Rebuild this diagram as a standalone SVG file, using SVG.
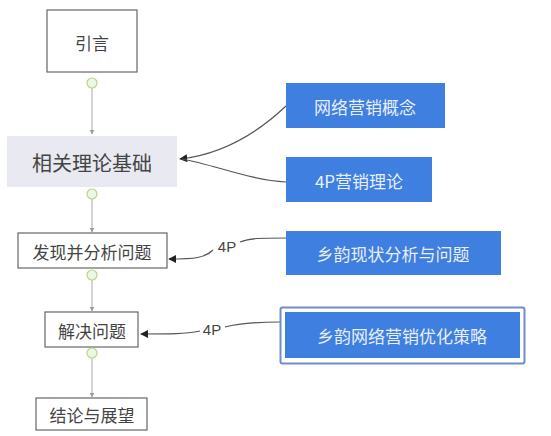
<svg xmlns="http://www.w3.org/2000/svg" width="551" height="436" viewBox="0 0 551 436">
<defs>
<style>
.box{fill:#fff;stroke:#666;stroke-width:1.2}
.t{font-family:"Noto Sans CJK SC",sans-serif;fill:#444;text-anchor:middle;dominant-baseline:central;font-size:17px}
.big{font-size:20px}
.bt{font-family:"Noto Sans CJK SC",sans-serif;fill:#e8eefa;text-anchor:middle;dominant-baseline:central;font-size:17px}
.blue{fill:#3f7fe0}
.ln{fill:none;stroke:#aaa;stroke-width:1}
.cn{fill:none;stroke:#555;stroke-width:1.2}
.gc{fill:#eef6e4;stroke:#b5d68e;stroke-width:1.2}
.lbl{font-family:"Liberation Sans",sans-serif;font-size:15px;fill:#444;text-anchor:middle;dominant-baseline:central}
</style>
<marker id="ah" viewBox="0 0 10 10" refX="9" refY="5" markerWidth="8" markerHeight="8" orient="auto-start-reverse" markerUnits="userSpaceOnUse">
<path d="M0,0 L10,5 L0,10 z" fill="#222"/>
</marker>
<marker id="sa" viewBox="0 0 10 10" refX="9" refY="5" markerWidth="5" markerHeight="5" orient="auto" markerUnits="userSpaceOnUse">
<path d="M0,0 L10,5 L0,10 z" fill="#999"/>
</marker>
</defs>
<rect width="551" height="436" fill="#fff"/>
<g id="connectors">
<line class="ln" x1="92" y1="88" x2="92" y2="134" marker-end="url(#sa)"/>
<line class="ln" x1="92" y1="199" x2="92" y2="232" marker-end="url(#sa)"/>
<line class="ln" x1="92" y1="280" x2="92" y2="311" marker-end="url(#sa)"/>
<line class="ln" x1="92" y1="358" x2="92" y2="397" marker-end="url(#sa)"/>
<path class="cn" d="M286,106 C250,140 215,155 180,159" marker-end="url(#ah)"/>
<path class="cn" d="M286,182 C250,180 215,165 182,159"/>
<path class="cn" d="M286,238 C260,238 250,238 240,242 M213,250 C205,258 195,259 169,259" marker-end="url(#ah)"/>
<text class="lbl" x="227" y="246">4P</text>
<path class="cn" d="M280,322 C255,322 240,323 225,327 M200,331 C185,334 170,334 141,334" marker-end="url(#ah)"/>
<text class="lbl" x="212" y="329">4P</text>
</g>
<g id="n1">
<rect class="box" x="47" y="10" width="90" height="62"/>
<text class="t" x="92" y="42">引言</text>
<circle class="gc" cx="92" cy="83" r="5"/>
</g>
<g id="n2">
<rect x="7" y="136" width="170" height="51" fill="#e9e9f1"/>
<text class="t big" x="92" y="162">相关理论基础</text>
<circle class="gc" cx="92" cy="194" r="5"/>
</g>
<g id="n3">
<rect class="box" x="18" y="233" width="149" height="35"/>
<text class="t" x="92" y="251">发现并分析问题</text>
<circle class="gc" cx="92" cy="275" r="5"/>
</g>
<g id="n4">
<rect class="box" x="45" y="312" width="93" height="35"/>
<text class="t" x="92" y="330">解决问题</text>
<circle class="gc" cx="92" cy="353" r="5"/>
</g>
<g id="n5">
<rect class="box" x="36" y="398" width="111" height="32"/>
<text class="t" x="92" y="414">结论与展望</text>
</g>
<g id="r1">
<rect class="blue" x="286" y="83" width="159" height="45"/>
<text class="bt" x="365" y="106">网络营销概念</text>
</g>
<g id="r2">
<rect class="blue" x="286" y="157" width="146" height="45"/>
<text class="bt" x="359" y="180">4P营销理论</text>
</g>
<g id="r3">
<rect class="blue" x="286" y="231" width="215" height="44"/>
<text class="bt" x="393" y="253">乡韵现状分析与问题</text>
</g>
<g id="r4">
<rect x="280.5" y="307.5" width="244" height="56" rx="2" fill="none" stroke="#6d8cc8" stroke-width="2"/>
<rect class="blue" x="285" y="312" width="235" height="46"/>
<text class="bt" x="402" y="335">乡韵网络营销优化策略</text>
</g>
</svg>
